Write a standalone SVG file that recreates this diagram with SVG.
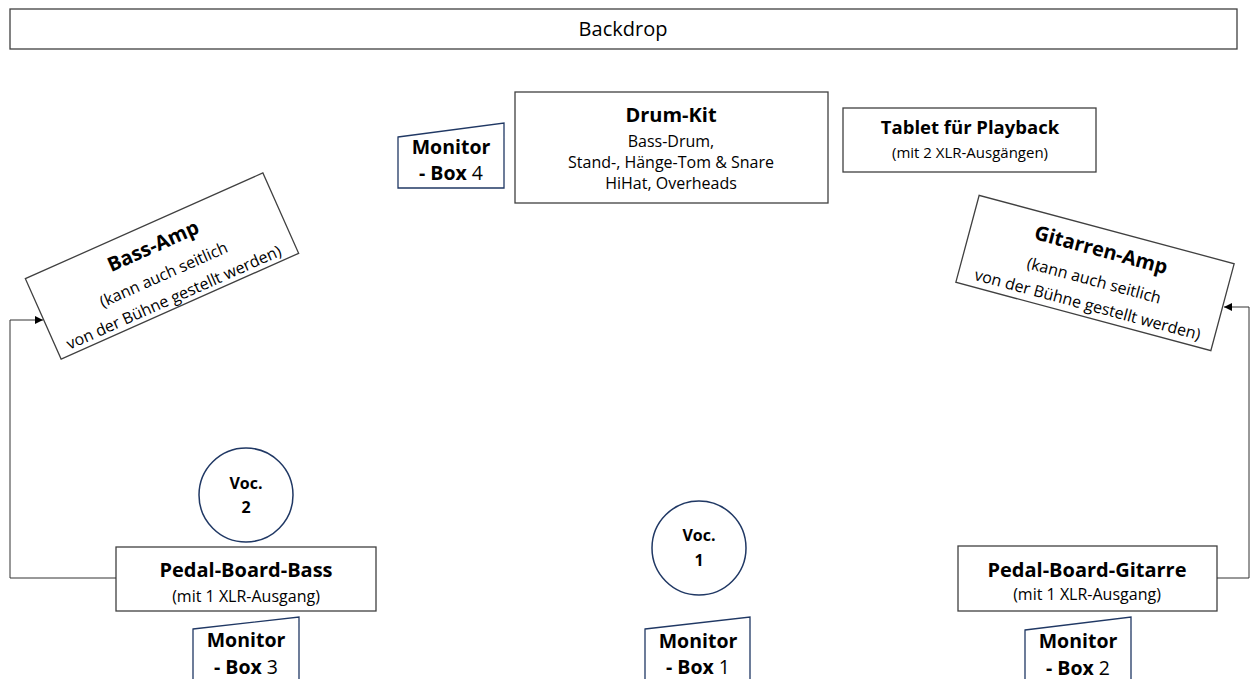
<svg xmlns="http://www.w3.org/2000/svg" width="1256" height="679" viewBox="0 0 1256 679">
<style>
text{font-family:"Open Sans","Noto Sans","Liberation Sans",sans-serif;fill:#000;text-anchor:middle}
.box{fill:#fff;stroke:#404040;stroke-width:1.3}
.mon{fill:#fff;stroke:#203864;stroke-width:1.3}
.voc{fill:#fff;stroke:#203864;stroke-width:1.5}
.t{font-weight:bold;font-size:20px}
.s{font-size:16px}
.d{font-size:16px}
.m{font-weight:bold;font-size:19.5px}
.v{font-weight:bold;font-size:16px}
.con{fill:none;stroke:#333;stroke-width:1}
</style>
<defs>
<marker id="arr" viewBox="0 0 10 10" refX="10" refY="5" markerWidth="8" markerHeight="8" markerUnits="userSpaceOnUse" orient="auto">
<path d="M0,0 L10,5 L0,10 z" fill="#000"/>
</marker>
</defs>
<rect width="1256" height="679" fill="#fff"/>

<g id="backdrop">
<rect class="box" x="10" y="9" width="1227" height="40"/>
<text x="623" y="36" style="font-size:20px">Backdrop</text>
</g>

<g id="drumkit">
<rect class="box" x="515" y="92" width="313" height="111"/>
<text class="t" x="671" y="122">Drum-Kit</text>
<text class="d" x="671" y="147">Bass-Drum,</text>
<text class="d" x="671" y="168">Stand-, Hänge-Tom &amp; Snare</text>
<text class="d" x="671" y="189">HiHat, Overheads</text>
</g>

<g id="monitor4">
<path class="mon" d="M398,137 L504,123 L504,188 L398,188 Z"/>
<text class="m" x="451" y="154">Monitor</text>
<text class="m" x="451" y="180">- Box <tspan style="font-weight:normal">4</tspan></text>
</g>

<g id="tablet">
<rect class="box" x="843" y="108" width="253" height="64"/>
<text x="970" y="134" style="font-weight:bold;font-size:18.5px">Tablet für Playback</text>
<text x="970" y="158" style="font-size:15px">(mit 2 XLR-Ausgängen)</text>
</g>

<g id="bassamp" transform="translate(162,266) rotate(-24)">
<rect class="box" x="-130" y="-44" width="260" height="88"/>
<text x="0" y="-15" style="font-weight:bold;font-size:20px">Bass-Amp</text>
<text class="s" x="-2" y="14">(kann auch seitlich</text>
<text class="s" x="-2" y="39">von der Bühne gestellt werden)</text>
</g>

<g id="gitarrenamp" transform="translate(1095,273) rotate(15)">
<rect class="box" x="-132" y="-45" width="264" height="90"/>
<text x="0" y="-17" style="font-weight:bold;font-size:20px">Gitarren-Amp</text>
<text class="s" x="1" y="13">(kann auch seitlich</text>
<text class="s" x="1" y="38">von der Bühne gestellt werden)</text>
</g>

<g id="voc2">
<circle class="voc" cx="246" cy="495" r="47"/>
<text class="v" x="246" y="489">Voc.</text>
<text class="v" x="246" y="513">2</text>
</g>

<g id="voc1">
<circle class="voc" cx="699" cy="548" r="47"/>
<text class="v" x="699" y="541">Voc.</text>
<text class="v" x="699" y="566">1</text>
</g>

<g id="pedalbass">
<rect class="box" x="116" y="547" width="260" height="64"/>
<text class="t" x="246" y="577">Pedal-Board-Bass</text>
<text class="s" x="246" y="602">(mit 1 XLR-Ausgang)</text>
</g>

<g id="pedalgitarre">
<rect class="box" x="958" y="546" width="259" height="65"/>
<text class="t" x="1087" y="577">Pedal-Board-Gitarre</text>
<text class="s" x="1087" y="600">(mit 1 XLR-Ausgang)</text>
</g>

<g id="monitor3">
<path class="mon" d="M193,629 L299,617 L299,690 L193,690 Z"/>
<text class="m" x="246" y="647">Monitor</text>
<text class="m" x="246" y="674">- Box <tspan style="font-weight:normal">3</tspan></text>
</g>

<g id="monitor1">
<path class="mon" d="M645,629 L750,617 L750,690 L645,690 Z"/>
<text class="m" x="698" y="648">Monitor</text>
<text class="m" x="698" y="674">- Box <tspan style="font-weight:normal">1</tspan></text>
</g>

<g id="monitor2">
<path class="mon" d="M1025,630 L1131,617 L1131,690 L1025,690 Z"/>
<text class="m" x="1078" y="648">Monitor</text>
<text class="m" x="1078" y="675">- Box <tspan style="font-weight:normal">2</tspan></text>
</g>

<g id="connectors">
<path class="con" d="M116,578 L10,578 L10,320 L43,320" marker-end="url(#arr)"/>
<path class="con" d="M1217,578 L1249,578 L1249,307 L1224,307" marker-end="url(#arr)"/>
</g>
</svg>
